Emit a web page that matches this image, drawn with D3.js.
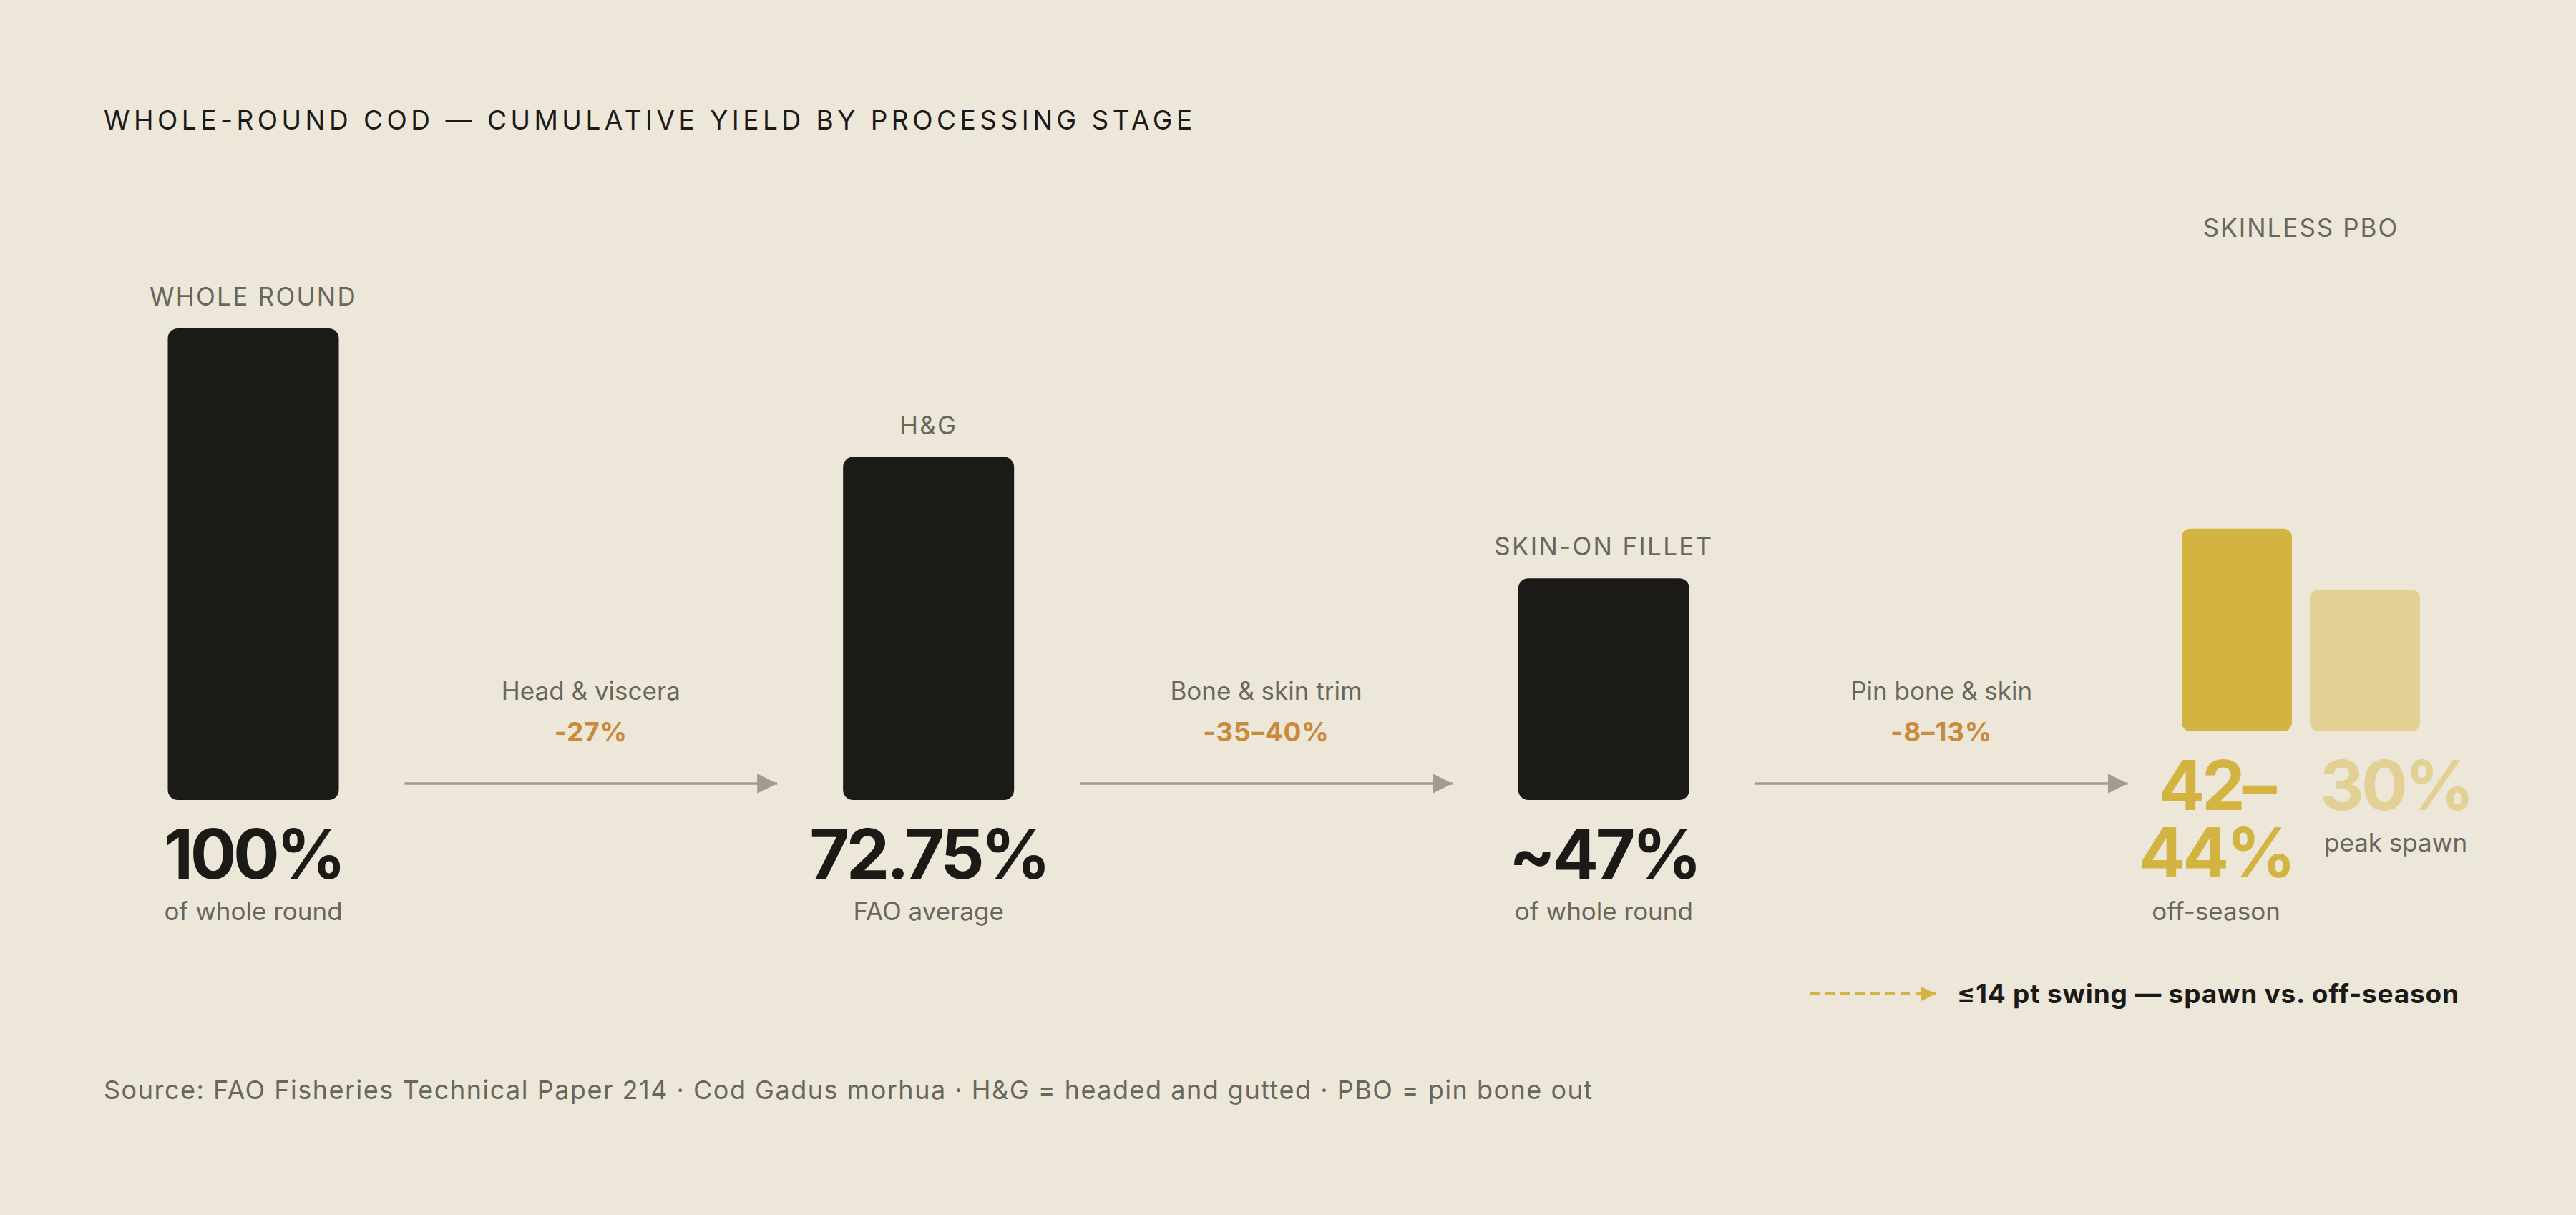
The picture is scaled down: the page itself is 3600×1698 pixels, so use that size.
<!DOCTYPE html>
<html>
<head>
<meta charset="utf-8">
<script src="https://cdn.jsdelivr.net/npm/d3@7"></script>
<style>
  html, body { margin: 0; padding: 0; background: #ede7da; }
  svg { display: block; font-family: "Inter", "DejaVu Sans", sans-serif; }
</style>
</head>
<body>
<script>
// chart values
var stages = ["WHOLE ROUND", "H&G", "SKIN-ON FILLET", "SKINLESS PBO"];
var yields = [100, 72.75, 47];
var valueLabels = ["100%", "72.75%", "~47%"];
var valueNotes = ["of whole round", "FAO average", "of whole round"];
var steps = ["Head & viscera", "Bone & skin trim", "Pin bone & skin"];
var stepLosses = ["-27%", "-35–40%", "-8–13%"];
var pboSeasons = ["off-season", "peak spawn"];
var pboYields = [43, 30];
var pboLabels = [["42–", "44%"], ["30%"]];
var legendText = "≤14 pt swing — spawn vs. off-season";
var title = "WHOLE-ROUND COD — CUMULATIVE YIELD BY PROCESSING STAGE";
var source = "Source: FAO Fisheries Technical Paper 214 · Cod Gadus morhua · H&G = headed and gutted · PBO = pin bone out";

var width = 3600;
var height = 1698;
var barW = 239;
var baseY = 1118;
var pboBaseY = 1022;
var ink = "#1c1a16";
var grey = "#69675c";
var arrowGrey = "#a09c90";
var orange = "#c98a3b";
var gold = ["#d4b441", "#e2d095"];

var svg = d3.select("body").append("svg")
    .attr("width", width)
    .attr("height", height);

svg.append("rect").attr("width", width).attr("height", height).attr("fill", "#ede7da");

var x = d3.scalePoint().domain(stages).range([354, 3185]);
var h = d3.scaleLinear().domain([0, 100]).range([0, 659]);
var xs = d3.scaleBand().domain(pboSeasons).range([3049, 3382]).paddingInner(0.14);

var defs = svg.append("defs");
defs.append("marker")
    .attr("id", "head")
    .attr("viewBox", "0 0 10 10")
    .attr("refX", 10).attr("refY", 5)
    .attr("markerUnits", "userSpaceOnUse")
    .attr("markerWidth", 28).attr("markerHeight", 30)
    .attr("orient", "auto")
  .append("path").attr("d", "M0,0L10,5L0,10Z").attr("fill", arrowGrey);

defs.append("marker")
    .attr("id", "goldhead")
    .attr("viewBox", "0 0 10 10")
    .attr("refX", 10).attr("refY", 5)
    .attr("markerUnits", "userSpaceOnUse")
    .attr("markerWidth", 20).attr("markerHeight", 24)
    .attr("orient", "auto")
  .append("path").attr("d", "M0,0L10,5L0,10Z").attr("fill", gold[0]);

svg.append("text")
    .attr("x", 145).attr("y", 181)
    .attr("font-size", 37)
    .attr("letter-spacing", 5.5)
    .attr("fill", ink)
    .text(title);

// black stage bars
var main = stages.slice(0, 3);
svg.selectAll("rect.bar")
    .data(main)
    .enter().append("rect")
        .attr("class", "bar")
        .attr("x", function(d) { return x(d) - barW / 2; })
        .attr("y", function(d, i) { return baseY - h(yields[i]); })
        .attr("width", barW)
        .attr("height", function(d, i) { return h(yields[i]); })
        .attr("rx", 14)
        .attr("fill", ink);

svg.selectAll("text.stage")
    .data(main)
    .enter().append("text")
        .attr("class", "stage")
        .attr("x", function(d) { return x(d); })
        .attr("y", function(d, i) { return baseY - h(yields[i]) - 32; })
        .attr("text-anchor", "middle")
        .attr("font-size", 35)
        .attr("letter-spacing", 2.3)
        .attr("fill", grey)
        .text(function(d) { return d; });

svg.selectAll("text.value")
    .data(main)
    .enter().append("text")
        .attr("class", "value")
        .attr("x", function(d) { return x(d); })
        .attr("y", 1228)
        .attr("text-anchor", "middle")
        .attr("font-size", 96)
        .attr("font-weight", 700)
        .attr("letter-spacing", -4.5)
        .attr("fill", ink)
        .text(function(d, i) { return valueLabels[i]; });

svg.selectAll("text.note")
    .data(main)
    .enter().append("text")
        .attr("class", "note")
        .attr("x", function(d) { return x(d); })
        .attr("y", 1286)
        .attr("text-anchor", "middle")
        .attr("font-size", 35)
        .attr("fill", grey)
        .text(function(d, i) { return valueNotes[i]; });

// arrows between stages
var gap = 92;
var arrows = svg.selectAll("g.step")
    .data(steps)
    .enter().append("g")
        .attr("class", "step");

arrows.append("line")
    .attr("x1", function(d, i) { return x(stages[i]) + barW / 2 + gap; })
    .attr("x2", function(d, i) { return x(stages[i + 1]) - barW / 2 - gap; })
    .attr("y1", 1095).attr("y2", 1095)
    .attr("stroke", arrowGrey)
    .attr("stroke-width", 3.5)
    .attr("marker-end", "url(#head)");

arrows.append("text")
    .attr("x", function(d, i) { return (x(stages[i]) + x(stages[i + 1])) / 2; })
    .attr("y", 978)
    .attr("text-anchor", "middle")
    .attr("font-size", 35)
    .attr("fill", grey)
    .text(function(d) { return d; });

arrows.append("text")
    .attr("x", function(d, i) { return (x(stages[i]) + x(stages[i + 1])) / 2; })
    .attr("y", 1036)
    .attr("text-anchor", "middle")
    .attr("font-size", 37)
    .attr("font-weight", 700)
    .attr("letter-spacing", 0.8)
    .attr("fill", orange)
    .text(function(d, i) { return stepLosses[i]; });

// skinless PBO pair
svg.append("text")
    .attr("x", (xs.range()[0] + xs.range()[1]) / 2)
    .attr("y", 331)
    .attr("text-anchor", "middle")
    .attr("font-size", 35)
    .attr("letter-spacing", 2)
    .attr("fill", grey)
    .text(stages[3]);

svg.selectAll("rect.pbo")
    .data(pboSeasons)
    .enter().append("rect")
        .attr("class", "pbo")
        .attr("x", function(d) { return xs(d); })
        .attr("y", function(d, i) { return pboBaseY - h(pboYields[i]); })
        .attr("width", xs.bandwidth())
        .attr("height", function(d, i) { return h(pboYields[i]); })
        .attr("rx", 12)
        .attr("fill", function(d, i) { return gold[i]; });

var colShift = [-29, 43];
var pboText = svg.selectAll("g.pbotext")
    .data(pboSeasons)
    .enter().append("g")
        .attr("class", "pbotext")
        .attr("transform", function(d, i) { return "translate(" + (xs(d) + xs.bandwidth() / 2 + colShift[i]) + ",0)"; });

pboText.each(function(d, i) {
    var g = d3.select(this);
    var t = g.append("text")
        .attr("y", 1132)
        .attr("text-anchor", "middle")
        .attr("font-size", 96)
        .attr("font-weight", 700)
        .attr("letter-spacing", -4)
        .attr("fill", gold[i]);
    pboLabels[i].forEach(function(line, j) {
        t.append("tspan")
            .attr("x", 0)
            .attr("dy", j === 0 ? 0 : 94)
            .text(line);
    });
    g.append("text")
        .attr("y", pboLabels[i].length > 1 ? 1286 : 1190)
        .attr("text-anchor", "middle")
        .attr("font-size", 35)
        .attr("fill", grey)
        .text(d);
});

// legend
svg.append("line")
    .attr("x1", 2530).attr("x2", 2705)
    .attr("y1", 1389).attr("y2", 1389)
    .attr("stroke", gold[0])
    .attr("stroke-width", 4)
    .attr("stroke-dasharray", "13 8")
    .attr("marker-end", "url(#goldhead)");

svg.append("text")
    .attr("x", 2735).attr("y", 1402)
    .attr("font-size", 37)
    .attr("font-weight", 700)
    .attr("letter-spacing", 0.8)
    .attr("fill", ink)
    .text(legendText);

svg.append("text")
    .attr("x", 145).attr("y", 1536)
    .attr("font-size", 36)
    .attr("letter-spacing", 1.5)
    .attr("fill", grey)
    .text(source);
</script>
</body>
</html>
